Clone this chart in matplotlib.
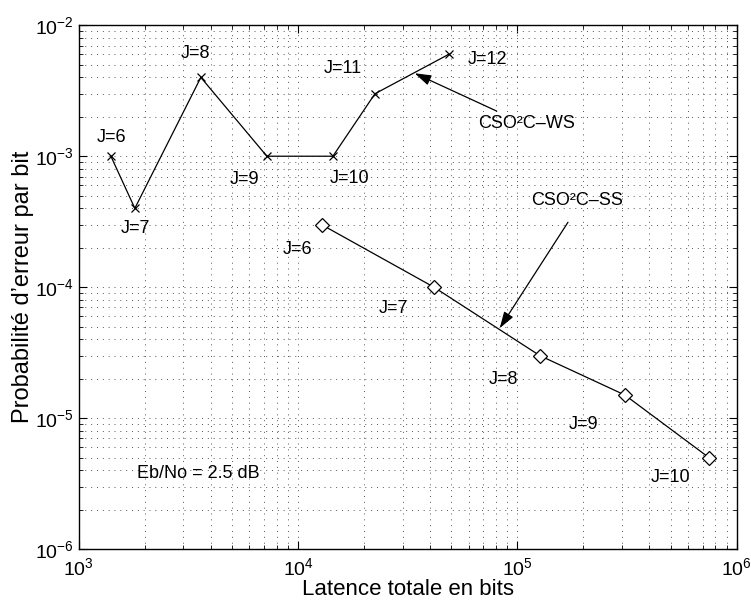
import matplotlib
matplotlib.use("Agg")
import matplotlib.pyplot as plt
from matplotlib.ticker import LogLocator, NullFormatter

plt.rcParams['font.family'] = ['Liberation Sans', 'DejaVu Sans']
plt.rcParams['mathtext.fontset'] = 'custom'
plt.rcParams['mathtext.rm'] = 'Liberation Sans'
plt.rcParams['mathtext.it'] = 'Liberation Sans:italic'
plt.rcParams['mathtext.bf'] = 'Liberation Sans:bold'

# CSO2C-WS (x markers)
ws_latency = [1400, 1800, 3600, 7200, 14400, 22400, 48600]
ws_ber = [1e-3, 4e-4, 4e-3, 1e-3, 1e-3, 3e-3, 6e-3]
ws_labels = ["J=6", "J=7", "J=8", "J=9", "J=10", "J=11", "J=12"]

# CSO2C-SS (diamond markers)
ss_latency = [12800, 41600, 126500, 309000, 746000]
ss_ber = [3e-4, 1e-4, 3e-5, 1.5e-5, 5e-6]
ss_labels = ["J=6", "J=7", "J=8", "J=9", "J=10"]

fig = plt.figure(figsize=(7.51, 6.02), dpi=100)
ax = fig.add_axes([0.105, 0.088, 0.876, 0.870])

ax.plot(ws_latency, ws_ber, color='black', lw=0.9, marker='x', ms=6, mew=0.9)
ax.plot(ss_latency, ss_ber, color='black', lw=0.9, marker='D', ms=7.5,
        mfc='white', mec='black', mew=0.9)

ax.set_xscale('log')
ax.set_yscale('log')
ax.set_xlim(1e3, 1e6)
ax.set_ylim(1e-6, 1e-2)

ax.xaxis.set_major_locator(LogLocator(base=10, numticks=10))
ax.yaxis.set_major_locator(LogLocator(base=10, numticks=10))
ax.xaxis.set_minor_locator(LogLocator(base=10, subs=range(2, 10), numticks=20))
ax.yaxis.set_minor_locator(LogLocator(base=10, subs=range(2, 10), numticks=20))
ax.xaxis.set_minor_formatter(NullFormatter())
ax.yaxis.set_minor_formatter(NullFormatter())

ax.grid(True, which='both', linestyle=(0, (1, 5)), color='#555555', linewidth=0.7)
ax.tick_params(which='both', direction='in', top=True, right=True, labelsize=14)
ax.tick_params(axis='x', which='major', pad=6)
ax.tick_params(which='major', length=6, width=0.8)
ax.tick_params(which='minor', length=3, width=0.6)
for s in ax.spines.values():
    s.set_linewidth(1.0)

ax.set_xlabel("Latence totale en bits", fontsize=16, labelpad=0)
ax.set_ylabel("Probabilité d’erreur par bit", fontsize=17, labelpad=1)

# Labels for each point (offsets in pixels)
ws_off = [(1, 19), (1, -20), (-5, 24), (-22, -23), (17, -22), (-32, 25), (39, -5)]
for x, y, t, o in zip(ws_latency, ws_ber, ws_labels, ws_off):
    ax.annotate(t, (x, y), xytext=o, textcoords='offset pixels',
                ha='center', va='center', fontsize=13)

ss_off = [(-24, -25), (-41, -21), (-36, -24), (-41, -29), (-38, -20)]
for x, y, t, o in zip(ss_latency, ss_ber, ss_labels, ss_off):
    ax.annotate(t, (x, y), xytext=o, textcoords='offset pixels',
                ha='center', va='center', fontsize=13)

arrow = dict(arrowstyle='-|>,head_length=1.0,head_width=0.32', color='black',
             lw=0.9, shrinkA=0, shrinkB=0)
ax.text(1.1e5, 1.79e-3, "CSO²C–WS", ha='center', va='center', fontsize=13)
ax.annotate("", xy=(3.4e4, 4.3e-3), xytext=(8.05e4, 2.21e-3), arrowprops=arrow)
ax.text(1.88e5, 4.6e-4, "CSO²C–SS", ha='center', va='center', fontsize=13)
ax.annotate("", xy=(8.3e4, 4.86e-5), xytext=(1.7e5, 3.13e-4), arrowprops=arrow)

ax.text(3.5e3, 3.8e-6, "Eb/No = 2.5 dB", ha='center', va='center', fontsize=13)

fig.savefig("out.png", dpi=100, facecolor='white')
